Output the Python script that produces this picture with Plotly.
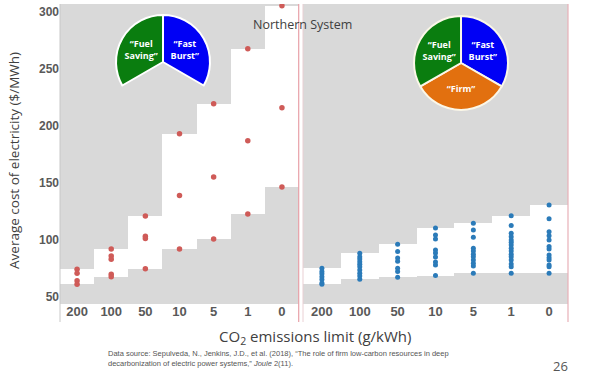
import plotly.graph_objects as go

categories = ["200", "100", "50", "10", "5", "1", "0"]

# Left panel (without firm resources) – average cost ($/MWh)
left_values = {
    "200": [74, 70.5, 64, 61],
    "100": [91.8, 85.7, 82.8, 69.6, 67.5],
    "50": [120.8, 103, 101, 74.5],
    "10": [192.7, 138.6, 91.8],
    "5": [219, 154.9, 100.6],
    "1": [267.3, 186.6, 122.5],
    "0": [305, 215.5, 146.2],
}

# Right panel (with firm resources)
right_values = {
    "200": [75, 72, 70, 67.5, 65, 62, 61],
    "100": [88, 85, 83, 80.7, 78.4, 76.3, 73.4, 70.5, 68.2, 65.3],
    "50": [96, 89.5, 84, 81, 75, 72, 67],
    "10": [110.3, 104.1, 100.6, 91, 88.3, 84.8, 80.4, 77.8, 68.5],
    "5": [114.4, 108.5, 102.1, 92.5, 90.1, 87.2, 85.1, 82.2, 79.3, 76.9, 70.5],
    "1": [121, 112.3, 105.6, 102.6, 99.7, 97.7, 95.4, 92.5, 90.1, 87.2, 85.1, 82.2, 78.7, 76.3, 70.5],
    "0": [130.4, 118.2, 107, 103.5, 99.7, 93.9, 91.8, 86.6, 84.2, 82.2, 77.8, 76.3, 70.5],
}

y_ticks = [50, 100, 150, 200, 250, 300]
pie_labels = ["Fast Burst", "Firm", "Fuel Saving"]
pie_texts = ["“Fast<br>Burst”", "“Firm”", "“Fuel<br>Saving”"]
pie_values = [1, 1, 1]

GRAY_BG = "#d9d9d9"
RED = "#cf5b58"
BLUE = "#2b7bb9"
GREEN = "#0a7d0f"
PIE_BLUE = "#0000f5"
ORANGE = "#e2700f"

fig = go.Figure()

def add_panel(values, xa, ya, color, size):
    lows = [min(values[c]) for c in categories]
    highs = [max(values[c]) for c in categories]
    fig.add_trace(go.Bar(
        x=categories, y=[h - l for h, l in zip(highs, lows)], base=lows,
        width=1, marker=dict(color="white", line=dict(width=0)),
        xaxis=xa, yaxis=ya, showlegend=False, hoverinfo="skip"))
    xs, ys = [], []
    for c in categories:
        for v in values[c]:
            xs.append(c)
            ys.append(v)
    fig.add_trace(go.Scatter(
        x=xs, y=ys, mode="markers",
        marker=dict(color=color, size=size, line=dict(width=0)),
        xaxis=xa, yaxis=ya, showlegend=False, cliponaxis=True))

add_panel(left_values, "x", "y", RED, 5.5)
add_panel(right_values, "x2", "y2", BLUE, 5)

# Pies
fig.add_trace(go.Pie(
    labels=pie_labels, values=pie_values, text=["“Fast<br>Burst”", "", "“Fuel<br>Saving”"],
    textinfo="text", sort=False, direction="clockwise", rotation=0,
    marker=dict(colors=[PIE_BLUE, "rgba(0,0,0,0)", GREEN],
                line=dict(color=["white", "rgba(0,0,0,0)", "white"], width=[2, 0, 2])),
    textfont=dict(color="white", size=9, family="Open Sans", weight="bold"),
    insidetextorientation="horizontal", textposition="inside",
    domain=dict(x=[0.1102, 0.2953], y=[0.65, 0.9633]),
    showlegend=False, hoverinfo="skip"))

fig.add_trace(go.Pie(
    labels=pie_labels, values=pie_values, text=pie_texts,
    textinfo="text", sort=False, direction="clockwise", rotation=0,
    marker=dict(colors=[PIE_BLUE, ORANGE, GREEN], line=dict(color="#fbf7e8", width=2)),
    textfont=dict(color="white", size=9, family="Open Sans", weight="bold"),
    insidetextorientation="horizontal", textposition="inside",
    domain=dict(x=[0.6969, 0.8819], y=[0.6467, 0.96]),
    showlegend=False, hoverinfo="skip"))

tickfont = dict(family="Liberation Sans", size=13, color="#595959", weight="bold")
yrange = [43.6, 306.5]

fig.update_layout(
    width=601, height=376,
    margin=dict(l=60, r=33, t=4, b=72),
    paper_bgcolor="white", plot_bgcolor=GRAY_BG,
    bargap=0,
    xaxis=dict(domain=[0, 0.4705], type="category", categoryorder="array",
               categoryarray=categories, range=[-0.5, 6.5], showgrid=False,
               zeroline=False, showline=False, ticks="", tickfont=tickfont,
               ticklabelstandoff=-2),
    xaxis2=dict(domain=[0.4783, 1.0], type="category", categoryorder="array",
                categoryarray=categories, range=[-0.5, 6.5], showgrid=False,
                zeroline=False, showline=False, ticks="", tickfont=tickfont, anchor="y2",
                ticklabelstandoff=-2),
    yaxis=dict(range=yrange, tickvals=y_ticks, showgrid=False, zeroline=False,
               showline=False, ticks="", tickfont=dict(family="Liberation Sans", size=12,
               color="#595959", weight="bold")),
    yaxis2=dict(range=yrange, anchor="x2", showticklabels=False, showgrid=False,
                zeroline=False, showline=False, ticks=""),
)

# Panel border lines
def vline(xpx, color, width=1.2):
    xp = (xpx - 60) / 508
    fig.add_shape(type="line", xref="paper", yref="paper", x0=xp, x1=xp,
                  y0=-0.06, y1=1.0, line=dict(color=color, width=width), layer="above")

vline(60, "#c8c8c8", 1)
vline(298.7, "#e8a0a8", 1.2)
vline(303, "#ead0d4", 1)
vline(568, "#e8b0b8", 1.2)

title_font = dict(family="Open Sans", color="#404040")
fig.add_annotation(text="Average cost of electricity ($/MWh)", xref="paper", yref="paper",
                   x=-0.0906, y=0.48, xanchor="center", yanchor="middle", textangle=-90,
                   showarrow=False, font=dict(size=13.5, **title_font))
fig.add_annotation(text="CO<sub>2</sub> emissions limit (g/kWh)", xref="paper", yref="paper",
                   x=0.502, y=-0.11, xanchor="center", yanchor="middle", showarrow=False,
                   font=dict(size=15, **title_font))
fig.add_annotation(text="Northern System", xref="paper", yref="paper",
                   x=0.478, y=0.93, xanchor="center", yanchor="middle", showarrow=False,
                   font=dict(size=12.5, **title_font))
fig.add_annotation(
    text="Data source: Sepulveda, N., Jenkins, J.D., et al. (2018), “The role of firm low-carbon resources in deep<br>"
         "decarbonization of electric power systems,” <i>Joule</i> 2(11).",
    xref="paper", yref="paper", x=0.0906, y=-0.183, xanchor="left", yanchor="middle",
    align="left", showarrow=False,
    font=dict(family="Liberation Sans", size=7.5, color="#555555"))
fig.add_annotation(text="26", xref="paper", yref="paper", x=0.986, y=-0.207,
                   xanchor="center", yanchor="middle",
                   showarrow=False, font=dict(family="Open Sans", size=13, color="#555555"))

fig.write_html("out.html", config={"displayModeBar": False},
               post_script="document.body.style.margin='0';")
